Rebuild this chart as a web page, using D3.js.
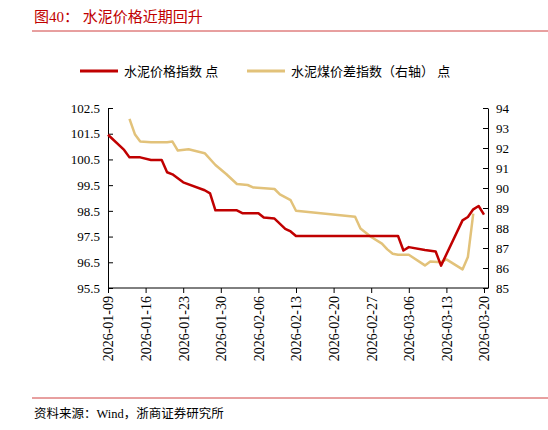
<!DOCTYPE html>
<html>
<head>
<meta charset="utf-8">
<script src="https://cdnjs.cloudflare.com/ajax/libs/d3/7.8.5/d3.min.js"></script>
<style>
  body { margin: 0; background: #fff; }
  text { font-family: "Liberation Serif", "Noto Sans CJK SC", serif; }
</style>
</head>
<body>
<div id="vis"></div>
<script>
// day offsets from 2026-01-09
const cementDays = [0, 3, 4, 6, 8, 10, 11, 12, 14, 18, 19, 20, 24, 25, 28, 29, 31, 33, 34, 35, 54, 55, 56, 59, 61, 62, 66, 67, 68, 69, 70];
const cementVals = [101.46, 100.87, 100.58, 100.58, 100.48, 100.48, 100.0, 99.92, 99.61, 99.3, 99.18, 98.52, 98.52, 98.41, 98.41, 98.24, 98.2, 97.8, 97.7, 97.52, 97.52, 96.96, 97.09, 96.98, 96.92, 96.37, 98.13, 98.26, 98.56, 98.69, 98.35];
const spreadDays = [4, 5, 6, 8, 11, 12, 13, 15, 18, 20, 22, 24, 26, 27, 31, 32, 34, 35, 46, 47, 49, 51, 52, 53, 54, 56, 59, 60, 62, 63, 66, 67, 68];
const spreadVals = [93.46, 92.69, 92.32, 92.29, 92.29, 92.32, 91.87, 91.94, 91.74, 91.15, 90.70, 90.20, 90.15, 90.03, 89.95, 89.68, 89.39, 88.86, 88.56, 87.97, 87.55, 87.22, 86.93, 86.71, 86.66, 86.66, 86.13, 86.33, 86.29, 86.43, 85.93, 86.55, 88.72];
const tickDays = [0, 7, 14, 21, 28, 35, 42, 49, 56, 63, 70];
const leftTicks = [95.5, 96.5, 97.5, 98.5, 99.5, 100.5, 101.5, 102.5];
const rightTicks = [85, 86, 87, 88, 89, 90, 91, 92, 93, 94];
const seriesNames = ["水泥价格指数 点", "水泥煤价差指数（右轴） 点"];
const colors = ["#c00000", "#e2c27a"];

const start = new Date(2026, 0, 9);
const toDate = d => d3.timeDay.offset(start, d);
const fmt = d3.timeFormat("%Y-%m-%d");

const W = 548, H = 430;
const svg = d3.select("#vis").append("svg").attr("width", W).attr("height", H);

svg.append("text").attr("x", 34).attr("y", 22).attr("fill", "#c00000")
  .attr("font-size", 15).text("图40：  水泥价格近期回升");
svg.append("line").attr("x1", 32).attr("x2", 548).attr("y1", 31).attr("y2", 31)
  .attr("stroke", "#d04040").attr("stroke-width", 1);

const x = d3.scaleTime().domain([start, toDate(70)]).range([108, 484]);
const yL = d3.scaleLinear().domain([95.5, 102.5]).range([288, 108]);
const yR = d3.scaleLinear().domain([85, 94]).range([288, 108]);

const xAxis = svg.append("g").attr("transform", "translate(0,288)")
  .call(d3.axisBottom(x).tickValues(tickDays.map(toDate)).tickFormat(fmt).tickSize(5).tickSizeOuter(0));
xAxis.selectAll("text").attr("transform", "rotate(-90)").attr("text-anchor", "end")
  .attr("x", -8).attr("y", 0).attr("dy", "0.35em").attr("font-size", 14).attr("fill", "#000");
xAxis.select(".domain").attr("d", "M108,0H488");

const lAxis = svg.append("g").attr("transform", "translate(108,0)")
  .call(d3.axisLeft(yL).tickValues(leftTicks).tickFormat(d3.format(".1f")).tickSize(5).tickSizeOuter(0));
lAxis.selectAll("text").attr("font-size", 13).attr("fill", "#000");
lAxis.selectAll(".tick line").attr("x2", 5);

const rAxis = svg.append("g").attr("transform", "translate(488,0)")
  .call(d3.axisRight(yR).tickValues(rightTicks).tickSize(5).tickSizeOuter(0));
rAxis.selectAll("text").attr("font-size", 13).attr("fill", "#000");
rAxis.selectAll(".tick line").attr("x2", -5);

const lineL = d3.line().x(d => x(toDate(d[0]))).y(d => yL(d[1]));
const lineR = d3.line().x(d => x(toDate(d[0]))).y(d => yR(d[1]));
svg.append("path").attr("d", lineR(d3.zip(spreadDays, spreadVals)))
  .attr("fill", "none").attr("stroke", colors[1]).attr("stroke-width", 2.5).attr("stroke-linejoin", "round");
svg.append("path").attr("d", lineL(d3.zip(cementDays, cementVals)))
  .attr("fill", "none").attr("stroke", colors[0]).attr("stroke-width", 2.5).attr("stroke-linejoin", "round");

// legend
const legX = [80, 247];
seriesNames.forEach((n, i) => {
  svg.append("line").attr("x1", legX[i]).attr("x2", legX[i] + 38).attr("y1", 71).attr("y2", 71)
    .attr("stroke", colors[i]).attr("stroke-width", 3);
  svg.append("text").attr("x", legX[i] + 44).attr("y", 76).attr("font-size", 13).text(n);
});

svg.append("line").attr("x1", 32).attr("x2", 548).attr("y1", 398).attr("y2", 398)
  .attr("stroke", "#d04040").attr("stroke-width", 1);
svg.append("text").attr("x", 34).attr("y", 418).attr("font-size", 12.5).text("资料来源：Wind，浙商证券研究所");
</script>
</body>
</html>
